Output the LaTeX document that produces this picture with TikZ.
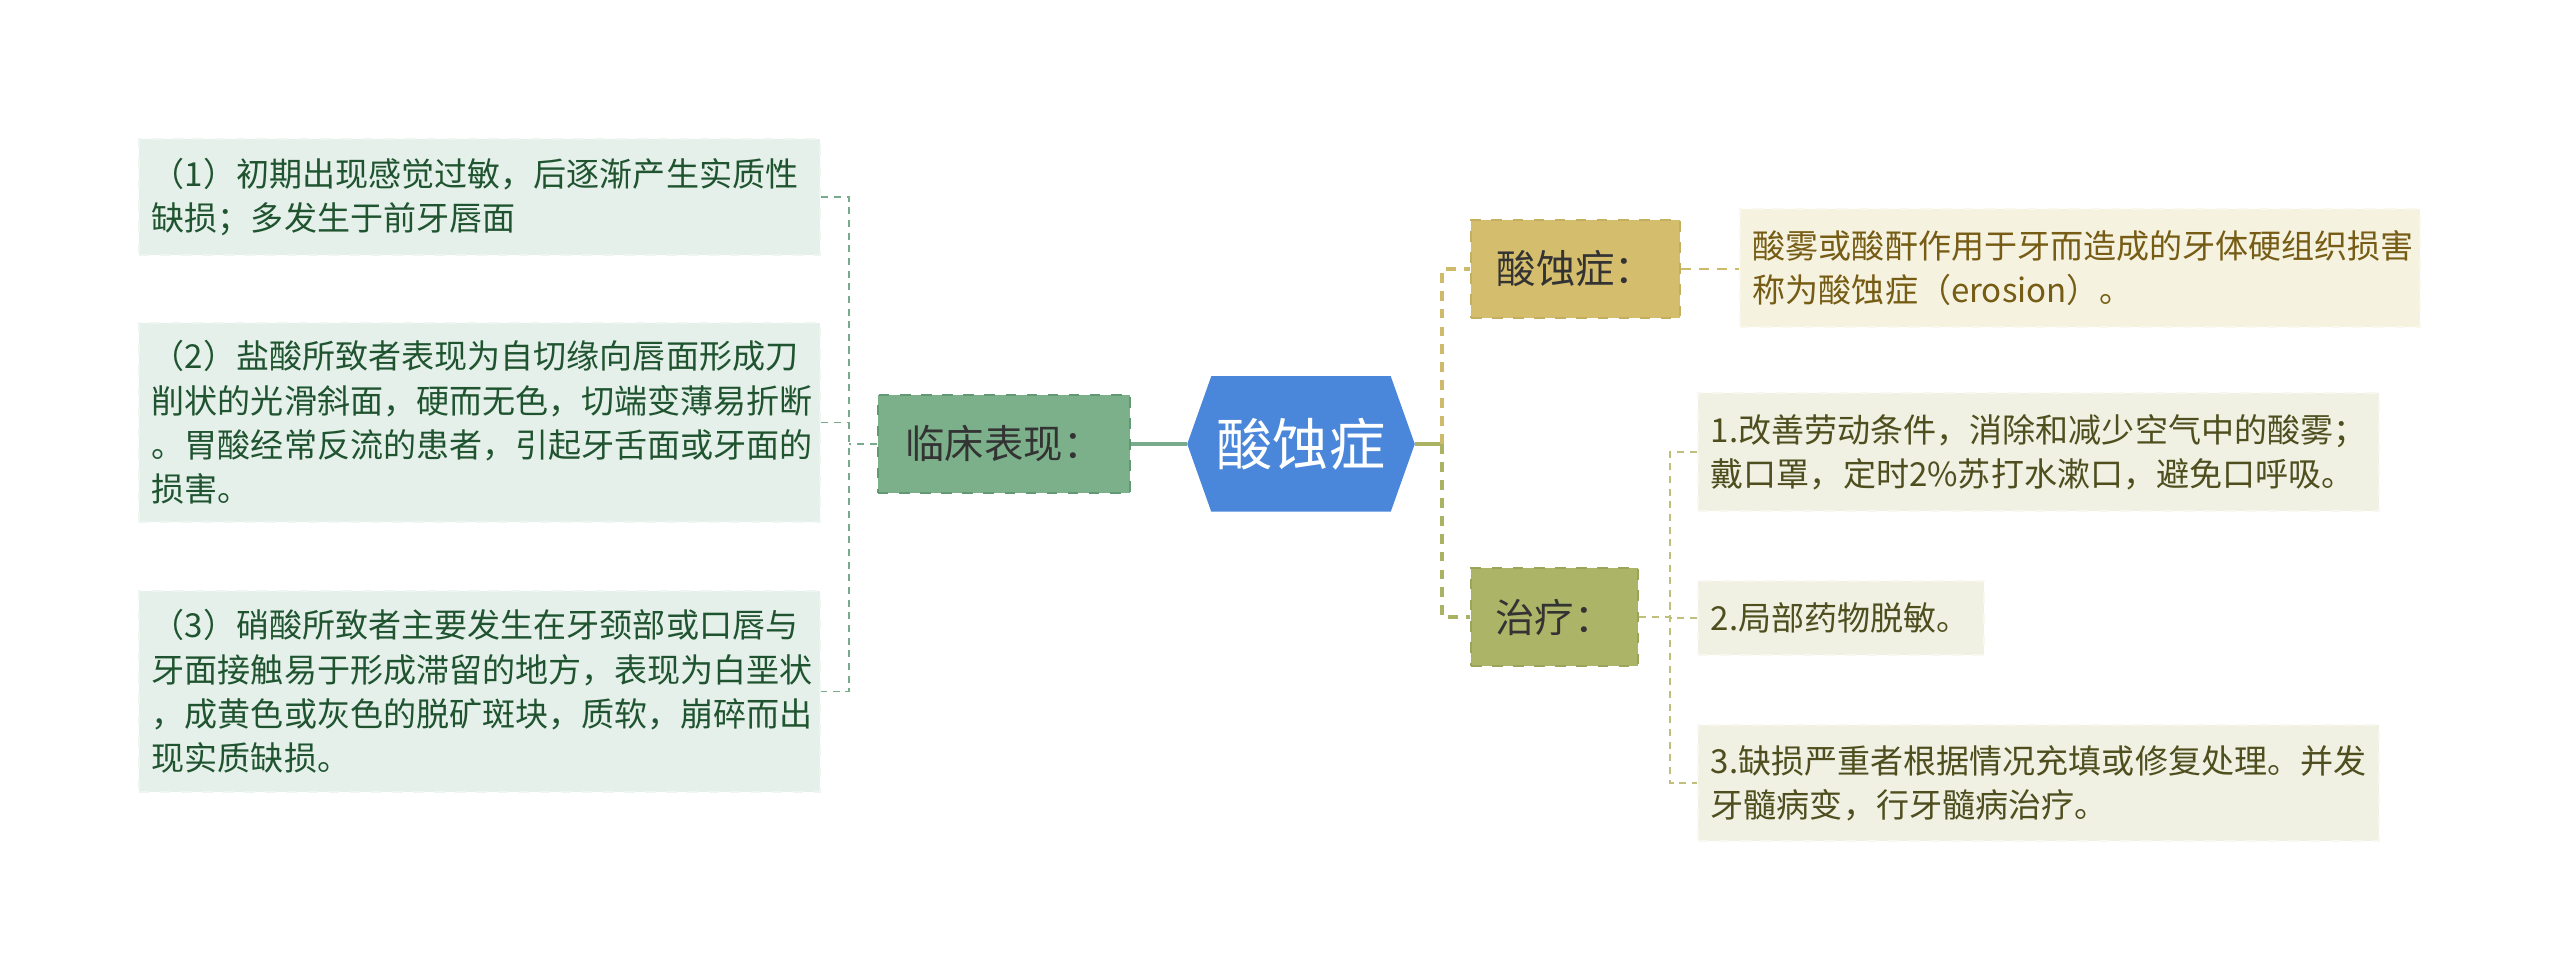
\documentclass[tikz,border=0pt]{standalone}
\usepackage{fontspec}
\setmainfont{Noto Sans CJK SC}
\usetikzlibrary{backgrounds}
\begin{document}
\begin{tikzpicture}[x=0.01cm,y=-0.01cm,
  leaftext/.style={font=\fontsize{9.4pt}{12.6pt}\selectfont, align=left, inner xsep=0.13cm, inner ysep=0pt},
  leafl/.style={leaftext, fill=leafgreen, draw=leafgreenb, dashed, line width=0.6pt, text=leafgreent, text width=6.55cm, minimum width=6.81cm},
  leafr/.style={leaftext, fill=leafolive, draw=leafoliveb, dashed, line width=0.6pt, text=leafolivet},
  midbox/.style={font=\fontsize{11.2pt}{13pt}\selectfont, dashed, line width=0.7pt, minimum height=0.98cm, inner xsep=0pt},
  lline/.style={draw=linegreen, line width=0.55pt, dash pattern=on 2pt off 1.6pt},
  goldline/.style={draw=linegold, line width=1pt, dash pattern=on 2.8pt off 2.3pt},
  oliveline/.style={draw=lineolive, line width=1pt, dash pattern=on 2.8pt off 2.3pt},
  tline/.style={draw=linet, line width=0.55pt, dash pattern=on 2pt off 1.6pt}]
\definecolor{rootblue}{RGB}{74,134,218}
\definecolor{lcgreen}{RGB}{124,176,138}
\definecolor{lcgreenb}{RGB}{98,152,114}
\definecolor{leafgreen}{RGB}{228,240,233}
\definecolor{leafgreenb}{RGB}{238,246,241}
\definecolor{leafgreent}{RGB}{32,84,48}
\definecolor{linegreen}{RGB}{120,170,140}
\definecolor{sxgold}{RGB}{212,189,108}
\definecolor{sxgoldb}{RGB}{196,174,96}
\definecolor{zlolive}{RGB}{172,180,104}
\definecolor{zloliveb}{RGB}{156,164,92}
\definecolor{defcream}{RGB}{245,242,224}
\definecolor{defcreamb}{RGB}{250,248,238}
\definecolor{defcreamt}{RGB}{118,92,20}
\definecolor{leafolive}{RGB}{240,240,227}
\definecolor{leafoliveb}{RGB}{248,248,240}
\definecolor{leafolivet}{RGB}{78,78,30}
\definecolor{linegold}{RGB}{206,186,106}
\definecolor{lineolive}{RGB}{170,178,100}
\definecolor{linet}{RGB}{192,192,124}
\useasboundingbox (0,0) rectangle (2560,980);
% centre
\node[font=\fontsize{16pt}{18pt}\selectfont, text=white, minimum width=2.26cm, minimum height=1.34cm, inner sep=0pt] (root) at (1301,444) {酸蚀症};
\begin{scope}[on background layer]
\fill[rootblue] (root.west) -- ([xshift=0.24cm]root.north west) -- ([xshift=-0.24cm]root.north east)
  -- (root.east) -- ([xshift=-0.24cm]root.south east) -- ([xshift=0.24cm]root.south west) -- cycle;
\end{scope}
% left branch
\node[midbox, fill=lcgreen, draw=lcgreenb, text=black!80, minimum width=2.52cm] (lc) at (1004,444) {临床表现：};
\node[leafl, minimum height=1.16cm] (lb1) at (479.5,197) {（1）初期出现感觉过敏，后逐渐产生实质性\\缺损；多发生于前牙唇面};
\node[leafl, minimum height=1.99cm] (lb2) at (479.5,422.5) {（2）盐酸所致者表现为自切缘向唇面形成刀\\削状的光滑斜面，硬而无色，切端变薄易折断\\。胃酸经常反流的患者，引起牙舌面或牙面的\\损害。};
\node[leafl, minimum height=2.01cm] (lb3) at (479.5,691.5) {（3）硝酸所致者主要发生在牙颈部或口唇与\\牙面接触易于形成滞留的地方，表现为白垩状\\，成黄色或灰色的脱矿斑块，质软，崩碎而出\\现实质缺损。};
\coordinate (lj) at (849,444);
\draw[linegreen, line width=1pt] (root.west) -- (lc.east);
\draw[lline] (lc.west) -- (lj);
\draw[lline] (lb1.east) -| (lj) |- (lb3.east);
\draw[lline] (lb2.east) -- (lb2.east -| lj);
% right branch
\node[midbox, fill=sxgold, draw=sxgoldb, text=black!80, minimum width=2.09cm] (sx) at (1575.5,269) {酸蚀症：};
\node[midbox, fill=zlolive, draw=zloliveb, text=black!80, minimum width=1.67cm] (zl) at (1554.5,617) {治疗：};
\node[leaftext, fill=defcream, draw=defcreamb, dashed, line width=0.6pt, text=defcreamt, text width=6.54cm, minimum width=6.8cm, minimum height=1.18cm] (def) at (2080,268) {酸雾或酸酐作用于牙而造成的牙体硬组织损害\\称为酸蚀症（erosion）。};
\node[leafr, text width=6.55cm, minimum width=6.81cm, minimum height=1.18cm] (t1) at (2038.5,452) {1.改善劳动条件，消除和减少空气中的酸雾；\\戴口罩，定时2\%苏打水漱口，避免口呼吸。};
\node[leafr, text width=2.6cm, minimum width=2.86cm, minimum height=0.74cm] (t2) at (1841,618) {2.局部药物脱敏。};
\node[leafr, text width=6.55cm, minimum width=6.81cm, minimum height=1.16cm] (t3) at (2038.5,783) {3.缺损严重者根据情况充填或修复处理。并发\\牙髓病变，行牙髓病治疗。};
\coordinate (rj) at (1442,444);
\coordinate (tj) at (1670,617);
\draw[lineolive, line width=1pt] (root.east) -- (rj);
\draw[goldline] (rj) |- (sx.west);
\draw[oliveline] (rj) |- (zl.west);
\draw[goldline, line width=0.55pt] (sx.east) -- (sx.east -| def.west);
\draw[tline] (zl.east) -- (tj);
\draw[tline] (t1.west) -| (tj) |- (t3.west);
\draw[tline] (t2.west) -- (t2.west -| tj);
\end{tikzpicture}
\end{document}
